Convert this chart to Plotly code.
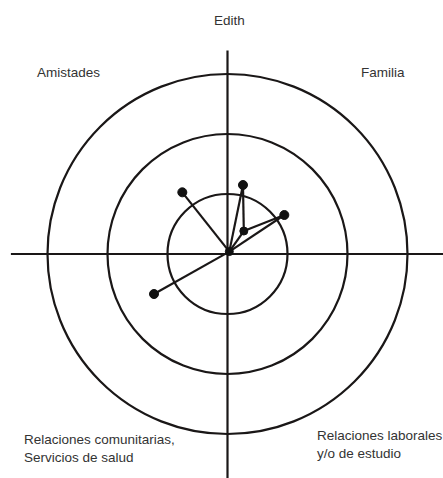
import plotly.graph_objects as go

# ---- data ----
ring_radii = [1, 2, 3]
center_xy = (0.03, 0.04)
node_x = [-0.753, 0.258, 0.272, 0.947, -1.225]
node_y = [1.028, 1.150, 0.383, 0.650, -0.667]
# edges: index -1 means the central person
edges = [(-1, 0), (-1, 1), (-1, 2), (-1, 3), (-1, 4), (1, 2), (2, 3)]
title_label = "Edith"
quadrant_labels = ["Amistades", "Familia",
                   "Relaciones comunitarias,<br>Servicios de salud",
                   "Relaciones laborales<br>y/o de estudio"]

W, H = 443, 478
unit = 60.0
cx_px, cy_px = 227.5, 254.0
x_range = [-cx_px / unit, (W - cx_px) / unit]
y_range = [-(H - cy_px) / unit, cy_px / unit]

line_col = "#1a1717"
text_col = "#333333"

fig = go.Figure()

def pt(i):
    if i == -1:
        return center_xy
    return (node_x[i], node_y[i])

ex, ey = [], []
for a, b in edges:
    pa, pb = pt(a), pt(b)
    ex += [pa[0], pb[0], None]
    ey += [pa[1], pb[1], None]
fig.add_trace(go.Scatter(x=ex, y=ey, mode="lines",
                         line=dict(color=line_col, width=2.2), hoverinfo="skip"))
fig.add_trace(go.Scatter(x=node_x + [center_xy[0]], y=node_y + [center_xy[1]],
                         mode="markers",
                         marker=dict(color="#111111", opacity=1, size=[9, 9, 8, 9, 9, 8],
                                     line=dict(color="#111111", width=1)),
                         hoverinfo="skip"))

shapes = []
for r in ring_radii:
    shapes.append(dict(type="circle", xref="x", yref="y", x0=-r, y0=-r, x1=r, y1=r,
                       line=dict(color=line_col, width=2.2), layer="below"))
shapes.append(dict(type="line", xref="x", yref="y", x0=-3.61, y0=0, x1=x_range[1] + 0.2, y1=0,
                   line=dict(color=line_col, width=2.2), layer="below"))
shapes.append(dict(type="line", xref="x", yref="y", x0=0, y0=3.39, x1=0, y1=y_range[0] - 0.2,
                   line=dict(color=line_col, width=2.2), layer="below"))

font = dict(family="Liberation Sans, Arial", size=13.5, color=text_col)
annotations = [
    dict(x=0.04, y=3.9, text=title_label, xanchor="center", yanchor="middle"),
    dict(x=-3.21, y=3.03, text=quadrant_labels[0], xanchor="left", yanchor="middle"),
    dict(x=2.19, y=3.03, text=quadrant_labels[1], xanchor="left", yanchor="middle"),
    dict(x=-3.43, y=-3.24, text=quadrant_labels[2], xanchor="left", yanchor="middle", align="left"),
    dict(x=1.45, y=-3.17, text=quadrant_labels[3], xanchor="left", yanchor="middle", align="left"),
]
for a in annotations:
    a.update(xref="x", yref="y", showarrow=False, font=font)

fig.update_layout(
    width=W, height=H, margin=dict(l=0, r=0, t=0, b=0),
    paper_bgcolor="white", plot_bgcolor="white", showlegend=False,
    xaxis=dict(range=x_range, visible=False, fixedrange=True),
    yaxis=dict(range=y_range, visible=False, fixedrange=True),
    shapes=shapes, annotations=annotations,
)

fig.write_html("out.html", config={"displayModeBar": False},
               post_script="document.body.style.margin='0';")
